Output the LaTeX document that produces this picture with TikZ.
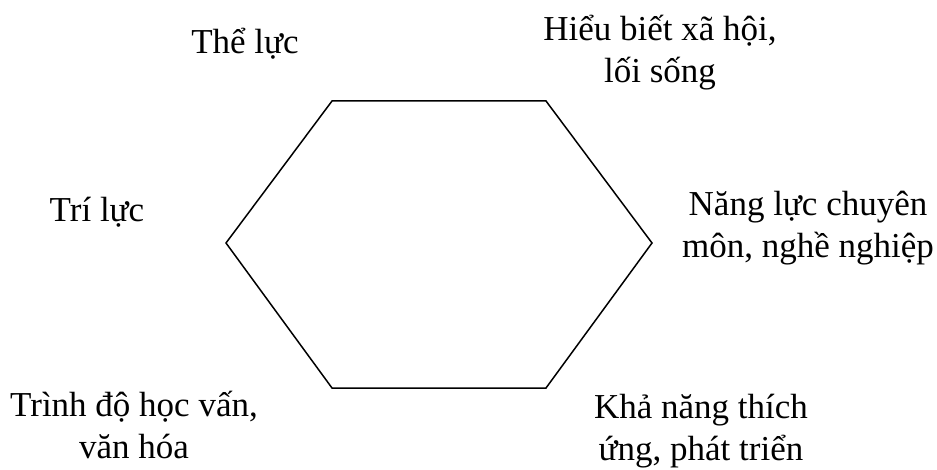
\documentclass[tikz,border=0pt]{standalone}
\usepackage{fontspec}
\setmainfont{Liberation Serif}
\usepackage{tikz}
\usetikzlibrary{positioning}

\begin{document}
\begin{tikzpicture}[x=1pt, y=-1pt, font=\fontsize{35}{42}\selectfont,
  lbl/.style={align=center, inner sep=0pt},
  edge/.style={line width=1.5pt, line join=miter}]
  \useasboundingbox (0,0) rectangle (937,470);
  % hexagon corners
  \coordinate (tl) at (332,101);
  \coordinate (tr) at (546,101);
  \coordinate (r) at (652,243);
  \coordinate (br) at (546,388);
  \coordinate (bl) at (332,388);
  \coordinate (l) at (226,243);
  \draw[edge] (tl) -- (tr) -- (r) -- (br) -- (bl) -- (l) -- cycle;
  % labels
  \node[lbl, anchor=base] (theluc) at (245,54) {Thể lực};
  \node[lbl] (hieubiet) at (660,53) {Hiểu biết xã hội,\\lối sống};
  \node[lbl, anchor=base] (triluc) at (97,222) {Trí lực};
  \node[lbl] (nangluc) at (808,228) {Năng lực chuyên\\môn, nghề nghiệp};
  \node[lbl] (trinhdo) at (134,425) {Trình độ học vấn,\\văn hóa};
  \node[lbl] (khanang) at (701,431) {Khả năng thích\\ứng, phát triển};
\end{tikzpicture}
\end{document}
